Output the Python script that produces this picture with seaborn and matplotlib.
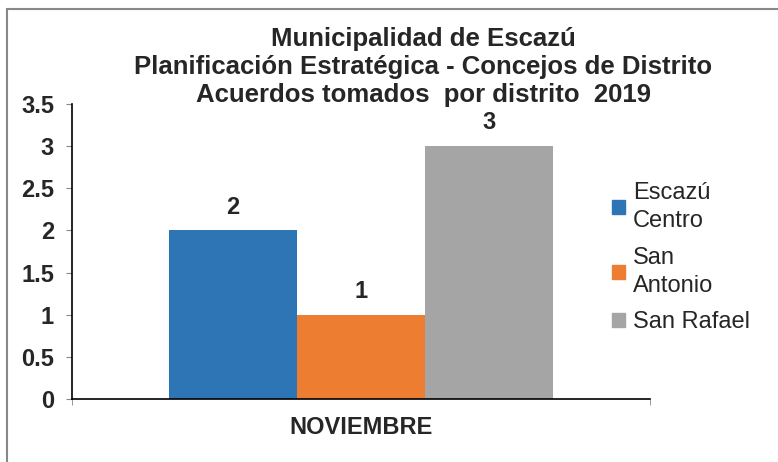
import matplotlib
matplotlib.use("Agg")
import matplotlib.pyplot as plt
import matplotlib.patches as mpatches
import seaborn as sns
import pandas as pd

months = ["NOVIEMBRE"]
districts = ["Escazú Centro", "San Antonio", "San Rafael"]
legend_labels = ["Escazú\nCentro", "San\nAntonio", "San Rafael"]
values = [2, 1, 3]
colors = ["#2E75B6", "#ED7D31", "#A5A5A5"]
title = "Municipalidad de Escazú\nPlanificación Estratégica - Concejos de Distrito\nAcuerdos tomados  por distrito  2019"
yticks = [0, 0.5, 1, 1.5, 2, 2.5, 3, 3.5]
ytick_labels = ["0", "0.5", "1", "1.5", "2", "2.5", "3", "3.5"]

df = pd.DataFrame({"Mes": months * len(districts), "Distrito": districts, "Valor": values})

sns.set_style("white")
plt.rcParams["font.family"] = ["Liberation Sans", "DejaVu Sans"]

fig = plt.figure(figsize=(7.78, 4.62), dpi=100)
ax = fig.add_axes([72 / 778, 1 - 399 / 462, (650 - 72) / 778, (399 - 104) / 462])

sns.barplot(data=df, x="Mes", y="Valor", hue="Distrito", hue_order=districts,
            palette=colors, width=384 / 578, gap=0, saturation=1, ax=ax,
            legend=False, errorbar=None)

for patch in ax.patches:
    patch.set_edgecolor("none")

ax.set_xlim(-0.5, 0.5)
ax.set_ylim(0, 3.5)
ax.set_xticks([-0.5, 0.5], minor=True)
ax.tick_params(axis="x", which="minor", length=4, color="#888888", direction="out", bottom=True)
ax.set_xticks([0])
ax.set_xticklabels(months)
ax.set_yticks(yticks)
ax.set_yticklabels(ytick_labels)
ax.tick_params(axis="x", which="major", length=0, pad=12)
ax.tick_params(axis="y", length=4, color="#888888", direction="out", left=True, pad=9)
for lab in ax.get_xticklabels():
    lab.set_fontsize(17)
    lab.set_fontweight("bold")
for lab in ax.get_yticklabels():
    lab.set_fontsize(17)
    lab.set_fontweight("bold")
ax.set_xlabel("")
ax.set_ylabel("")
for s in ["top", "right"]:
    ax.spines[s].set_visible(False)
for s in ["left", "bottom"]:
    ax.spines[s].set_color("black")
    ax.spines[s].set_linewidth(1.2)

for cont in ax.containers:
    ax.bar_label(cont, labels=[f"{v:g}" for v in cont.datavalues], padding=8.5,
                 fontsize=17, fontweight="bold")

fig.text(423 / 778, 1 - 67 / 462, title, ha="center", va="center",
         fontsize=18.5, fontweight="bold", linespacing=1.22)

handles = [mpatches.Patch(color=c) for c in colors]
leg = fig.legend(handles, legend_labels, loc="upper left", bbox_to_anchor=(612 / 778, 1 - 182 / 462),
                 frameon=False, fontsize=17, handlelength=0.55, handleheight=0.55,
                 handletextpad=0.35, labelspacing=0.62, borderaxespad=0, borderpad=0)
for t in leg.get_texts():
    t.set_linespacing(1.35)

border = mpatches.Rectangle((7 / 778, -0.1), 1.2, 1.1 - 9 / 462, transform=fig.transFigure,
                            fill=False, edgecolor="#888888", linewidth=1.5, clip_on=False)
fig.patches.append(border)

fig.savefig("out.png", dpi=100)
